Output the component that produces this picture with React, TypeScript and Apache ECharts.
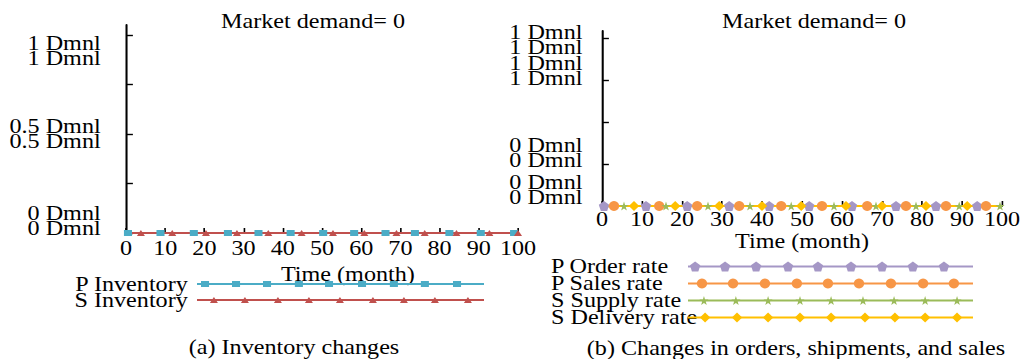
import React, { useEffect, useRef } from 'react';
import * as echarts from 'echarts';

const FONT = '"Liberation Serif", "Times New Roman", serif';
const FS = 21;
const CW = 892;
const CH = 359;
const SX = 1026 / CW;

// ---------- data ----------
const timeRange = [0, 100];
const panelTitles = ['Market demand= 0', 'Market demand= 0'];
const axisTitle = 'Time (month)';
const captions = ['(a) Inventory changes', '(b) Changes in orders, shipments, and sales'];

// Panel (a): inventories (marker sample times, values)
const pInventoryTimes = [0.5, 8.8, 17.3, 26, 33.8, 42, 50.3, 58.2, 66.2, 73.7, 82.5, 90.5, 99];
const pInventoryValues = [0, 0, 0, 0, 0, 0, 0, 0, 0, 0, 0, 0, 0];
const sInventoryTimes = [3.8, 11.8, 20.4, 28.3, 36.3, 44.8, 52.8, 60.8, 69, 76.2, 84.3, 92.7, 100];
const sInventoryValues = [0, 0, 0, 0, 0, 0, 0, 0, 0, 0, 0, 0, 0];

// Panel (b): rates
const pOrderTimes = [0.5, 11, 21.3, 31.8, 41.8, 51.8, 62.5, 73.5, 83.5, 93.8];
const pOrderValues = [0, 0, 0, 0, 0, 0, 0, 0, 0, 0];
const pSalesTimes = [3, 14.3, 23.8, 34.3, 44.8, 55, 66.3, 76, 86, 96];
const pSalesValues = [0, 0, 0, 0, 0, 0, 0, 0, 0, 0];
const sSupplyTimes = [5.5, 16, 26.5, 37, 47.3, 58, 68.5, 78.5, 89.3, 99.5];
const sSupplyValues = [0, 0, 0, 0, 0, 0, 0, 0, 0, 0];
const sDeliveryTimes = [8, 18.3, 29.3, 40, 49.8, 61, 70, 81, 91.3];
const sDeliveryValues = [0, 0, 0, 0, 0, 0, 0, 0, 0];

// tick labels
const leftYTickLabels = ['0 Dmnl', '0.5 Dmnl', '1 Dmnl'];
const rightYTickLabels = ['0 Dmnl', '1 Dmnl'];

// legend names
const legendA = ['P Inventory', 'S Inventory'];
const legendB = ['P Order rate', 'P Sales rate', 'S Supply rate', 'S Delivery rate'];

// ---------- styles ----------
const COLORS = {
  pInv: '#4bacc6',
  sInv: '#c0504d',
  order: '#a597c6',
  sales: '#f79646',
  supply: '#9bbb59',
  delivery: '#ffc000',
};
const PENTAGON = 'path://M0,-1 L0.951,-0.309 L0.588,0.809 L-0.588,0.809 L-0.951,-0.309 Z';
const STAR =
  'path://M0,-1 L0.224,-0.309 L0.951,-0.309 L0.363,0.118 L0.588,0.809 L0,0.382 L-0.588,0.809 L-0.363,0.118 L-0.951,-0.309 L-0.224,-0.309 Z';

// legend sample marker positions along the legend line (0..100)
const legendPosA = [
  [2.8, 13.6, 24.4, 35.5, 46, 57.5, 68.6, 79.4, 90.6],
  [5.9, 16.7, 28.2, 39, 49.8, 61.3, 72.1, 82.9, 94.4],
];
const legendPosB = [
  [2.5, 13, 23.9, 35.1, 45.6, 57.2, 68.1, 78.9, 89.8],
  [4.9, 15.8, 27, 38.2, 49.1, 60, 71.2, 82.5, 93.3],
  [5.6, 16.8, 28.1, 39.3, 50.2, 61.4, 72.3, 83.2, 94.4],
  [6, 17.2, 28.1, 39.3, 50.2, 62.1, 72.6, 83.2, 94.4],
];

const px = (x: number) => x / SX;

function seriesData(times: number[], values: number[]) {
  return [
    { value: [timeRange[0], values[0]], symbol: 'none' },
    ...times.map((t, i) => [t, values[i]]),
    { value: [timeRange[1], values[values.length - 1]], symbol: 'none' },
  ];
}

function legendData(pos: number[], name: string) {
  return [
    { value: [0, name], symbol: 'none' },
    ...pos.map((p) => [p, name]),
    { value: [100, name], symbol: 'none' },
  ];
}

const rich = {
  t: { fontFamily: FONT, fontSize: FS, lineHeight: 15, color: '#000', align: 'right' },
  g3: { fontSize: 1, lineHeight: 3 },
  g19: { fontSize: 1, lineHeight: 19 },
  g23: { fontSize: 1, lineHeight: 23 },
  g25: { fontSize: 1, lineHeight: 25 },
  g31: { fontSize: 1, lineHeight: 31 },
  g33: { fontSize: 1, lineHeight: 33 },
};

const pair = (s: string) => `{t|${s}}\n{t|${s}}`;

function leftYFormatter(v: number) {
  const k = Math.round(v * 100);
  if (k === 100) return `{g31| }\n${pair(leftYTickLabels[2])}`;
  if (k === 50) return pair(leftYTickLabels[1]);
  if (k === 0) return `${pair(leftYTickLabels[0])}\n{g25| }`;
  return '';
}

// right panel: outer labels (at 1 and 0)
function rightYFormatterOuter(v: number) {
  const k = Math.round(v * 100);
  if (k === 100) return `{g3| }\n${pair(rightYTickLabels[1])}`;
  if (k === 0) return `${pair(rightYTickLabels[0])}\n{g33| }`;
  return '';
}
// right panel: inner labels (at 0.75 and 0.25)
function rightYFormatterInner(v: number) {
  const k = Math.round(v * 100);
  if (k === 75) return `${pair(rightYTickLabels[1])}\n{g19| }`;
  if (k === 25) return `${pair(rightYTickLabels[0])}\n{g23| }`;
  return '';
}

const axisLineStyle = { color: '#000', width: 1.8 };
const tickStyle = { color: '#000', width: 1.4 };
const textBase = { fontFamily: FONT, fontSize: FS, color: '#000' };

function lineSeries(
  name: string,
  data: any[],
  color: string,
  symbol: string,
  symbolSize: number | number[],
  xAxisIndex: number,
  yAxisIndex: number
) {
  return {
    type: 'line',
    name,
    data,
    xAxisIndex,
    yAxisIndex,
    symbol,
    symbolSize,
    showAllSymbol: true,
    lineStyle: { color, width: 2 },
    itemStyle: { color, borderWidth: 0 },
    silent: true,
  };
}

export default function App() {
  const ref = useRef<HTMLDivElement>(null);
  useEffect(() => {
    if (!ref.current) return;
    const chart = echarts.init(ref.current, undefined, { renderer: 'svg', width: CW, height: CH });

    const gridA = { left: px(126), top: 35, width: px(518) - px(126), height: 233 - 35 };
    const gridAline = { left: px(126), top: 25, width: px(518) - px(126), height: 233 - 25 };
    const gridB = { left: px(602), top: 38, width: px(1002) - px(602), height: 206 - 38 };
    const gridBline = { left: px(602), top: 31, width: px(1002) - px(602), height: 206 - 31 };
    const gridLA = { left: px(197), top: 276, width: px(484) - px(197), height: 32 };
    const gridLB = { left: px(688), top: 258, width: px(973) - px(688), height: 68 };

    const xTime = (margin: number, nameGap: number, namePadLeft: number) => ({
      type: 'value',
      position: 'bottom',
      min: timeRange[0],
      max: timeRange[1],
      interval: 10,
      axisLine: { show: true, onZero: false, lineStyle: axisLineStyle },
      axisTick: { show: true, inside: true, length: 5, lineStyle: tickStyle },
      axisLabel: { ...textBase, margin, showMinLabel: true, showMaxLabel: true, hideOverlap: false },
      splitLine: { show: false },
      name: axisTitle,
      nameLocation: 'middle',
      nameGap,
      nameTextStyle: { ...textBase, padding: [0, 0, 0, namePadLeft] },
      z: 1,
    });

    const hiddenX = (min: number, max: number) => ({ type: 'value', min, max, show: false });

    const yLabelAxis = (gridIndex: number, formatter: any, margin: number, ticks: boolean) => ({
      gridIndex,
      type: 'value',
      position: 'left',
      offset: 0,
      min: 0,
      max: 1,
      interval: 0.25,
      axisLine: { show: false, onZero: false },
      axisTick: { show: ticks, inside: true, length: 6, lineStyle: tickStyle },
      axisLabel: {
        formatter,
        rich,
        margin,
        align: 'right',
        verticalAlign: 'middle',
        showMinLabel: true,
        showMaxLabel: true,
        hideOverlap: false,
      },
      splitLine: { show: false },
    });

    const lineOnlyY = (gridIndex: number) => ({
      gridIndex,
      type: 'value',
      position: 'left',
      min: 0,
      max: 1,
      axisLine: { show: true, onZero: false, lineStyle: axisLineStyle },
      axisTick: { show: false },
      axisLabel: { show: false },
      splitLine: { show: false },
    });

    const option: any = {
      animation: false,
      backgroundColor: '#fff',
      textStyle: { fontFamily: FONT },
      grid: [gridA, gridAline, gridB, gridBline, gridLA, gridLB].map((g) => ({ ...g, containLabel: false })),
      xAxis: [
        { ...xTime(5, 26, 45), gridIndex: 0 },
        { ...hiddenX(0, 100), gridIndex: 1 },
        { ...xTime(3, 24, 0), gridIndex: 2 },
        { ...hiddenX(0, 100), gridIndex: 3 },
        { ...hiddenX(0, 100), gridIndex: 4 },
        { ...hiddenX(0, 100), gridIndex: 5 },
      ],
      yAxis: [
        yLabelAxis(0, leftYFormatter, 22, true),
        lineOnlyY(1),
        yLabelAxis(2, rightYFormatterOuter, 17, true),
        lineOnlyY(3),
        {
          gridIndex: 4,
          type: 'category',
          position: 'left',
          data: legendA,
          inverse: true,
          axisLine: { show: false },
          axisTick: { show: false },
          axisLabel: { ...textBase, interval: 0, margin: 8, align: 'right' },
        },
        {
          gridIndex: 5,
          type: 'category',
          position: 'left',
          data: legendB,
          inverse: true,
          axisLine: { show: false },
          axisTick: { show: false },
          axisLabel: { ...textBase, interval: 0, margin: px(688) - px(551), align: 'left' },
        },
        yLabelAxis(2, rightYFormatterInner, 17, false),
      ],
      series: [
        lineSeries(legendA[0], seriesData(pInventoryTimes, pInventoryValues), COLORS.pInv, 'rect', [7, 6], 0, 0),
        lineSeries(legendA[1], seriesData(sInventoryTimes, sInventoryValues), COLORS.sInv, 'triangle', [7, 6], 0, 0),
        lineSeries(legendB[0], seriesData(pOrderTimes, pOrderValues), COLORS.order, PENTAGON, [9, 10], 2, 2),
        lineSeries(legendB[1], seriesData(pSalesTimes, pSalesValues), COLORS.sales, 'circle', [9, 10], 2, 2),
        lineSeries(legendB[2], seriesData(sSupplyTimes, sSupplyValues), COLORS.supply, STAR, [8, 9], 2, 2),
        lineSeries(legendB[3], seriesData(sDeliveryTimes, sDeliveryValues), COLORS.delivery, 'diamond', [9, 10], 2, 2),
        lineSeries(legendA[0] + ' key', legendData(legendPosA[0], legendA[0]), COLORS.pInv, 'rect', [7, 6], 4, 4),
        lineSeries(legendA[1] + ' key', legendData(legendPosA[1], legendA[1]), COLORS.sInv, 'triangle', [7, 6], 4, 4),
        lineSeries(legendB[0] + ' key', legendData(legendPosB[0], legendB[0]), COLORS.order, PENTAGON, [9, 10], 5, 5),
        lineSeries(legendB[1] + ' key', legendData(legendPosB[1], legendB[1]), COLORS.sales, 'circle', [9, 10], 5, 5),
        lineSeries(legendB[2] + ' key', legendData(legendPosB[2], legendB[2]), COLORS.supply, STAR, [8, 9], 5, 5),
        lineSeries(legendB[3] + ' key', legendData(legendPosB[3], legendB[3]), COLORS.delivery, 'diamond', [9, 10], 5, 5),
      ],
      graphic: [
        { x: px(313), y: 21, text: panelTitles[0] },
        { x: px(814), y: 21, text: panelTitles[1] },
        { x: px(294), y: 347, text: captions[0] },
        { x: px(796), y: 348, text: captions[1] },
      ].map((t) => ({
        type: 'text',
        x: t.x,
        y: t.y,
        silent: true,
        style: {
          text: t.text,
          font: `${FS}px ${FONT}`,
          fontFamily: FONT,
          fontSize: FS,
          lineHeight: 18,
          fill: '#000',
          align: 'center',
          verticalAlign: 'middle',
        },
      })),
    };

    chart.setOption(option);
    return () => chart.dispose();
  }, []);

  return (
    <div
      ref={ref}
      style={{
        position: 'absolute',
        left: 0,
        top: 0,
        width: CW,
        height: CH,
        transform: `scaleX(${SX})`,
        transformOrigin: '0 0',
      }}
    />
  );
}
